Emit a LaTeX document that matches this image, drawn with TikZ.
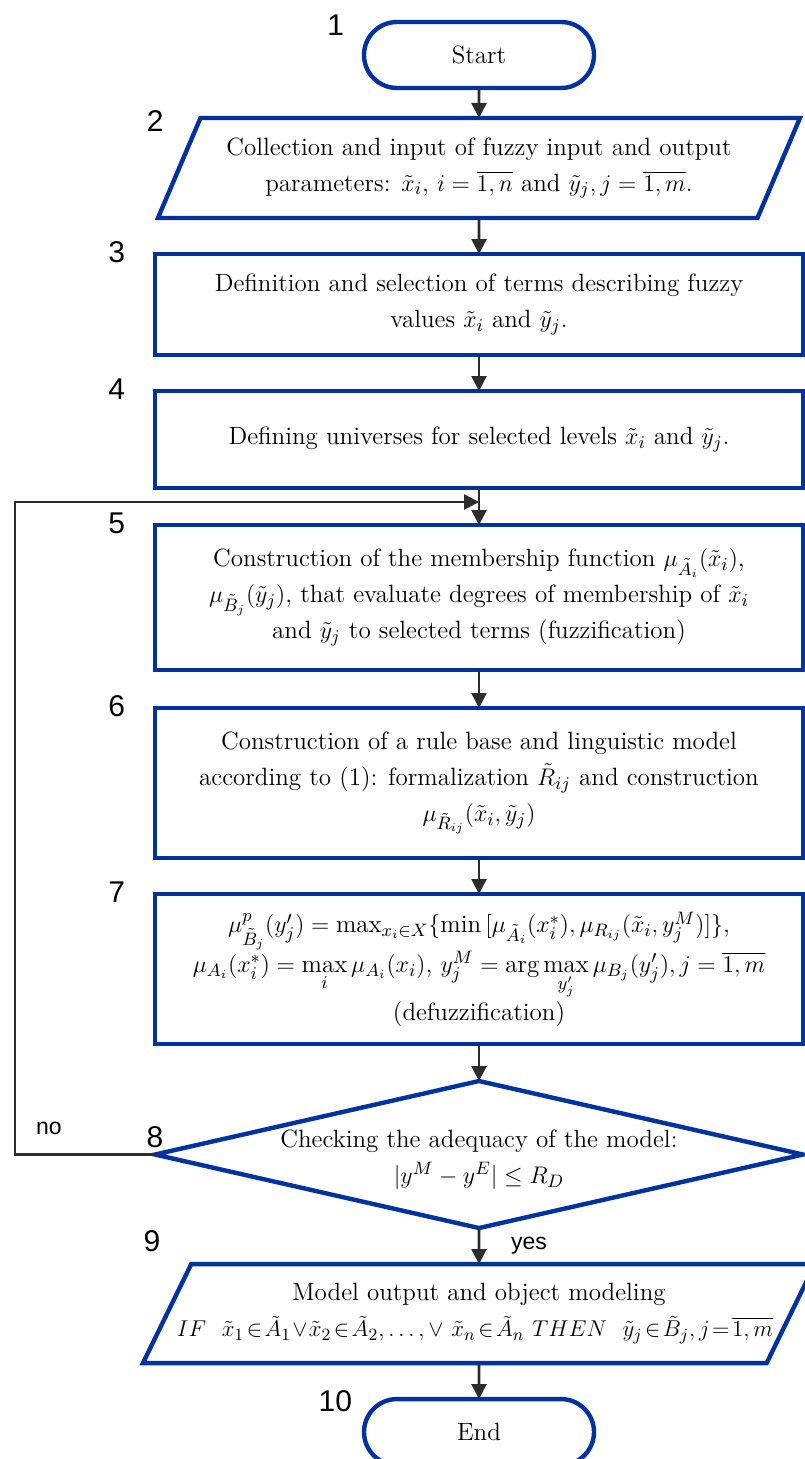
\documentclass[tikz,border=0pt]{standalone}
\usepackage{amsmath}
\usepackage{amssymb}
\usepackage{graphicx}
\usepackage{fontspec}
\newfontfamily\numfont{Liberation Sans}
\usepackage{tikz}
\usetikzlibrary{positioning}
\usetikzlibrary{shapes.geometric}
\usetikzlibrary{arrows.meta}
\definecolor{boxblue}{RGB}{0,51,160}
\definecolor{linegray}{RGB}{45,45,45}

\begin{document}
\begin{tikzpicture}
		[x=0.5pt, y=0.5pt, node distance=18pt,
		font=\fontsize{12.5}{18}\selectfont,
		every node/.style={outer sep=0pt},
		term/.style={draw=boxblue, line width=2.2pt, rounded corners=16.5pt, minimum width=115pt, minimum height=33pt},
		box/.style={draw=boxblue, line width=2.2pt, minimum width=324pt, align=center},
		io/.style={trapezium, trapezium stretches body=true, draw=boxblue, line width=2.2pt, align=center, inner sep=1pt},
		cond/.style={diamond, draw=boxblue, line width=2.2pt, minimum width=324pt, minimum height=73.5pt, inner sep=0pt},
		num/.style={font=\numfont\fontsize{15}{15}\selectfont, inner sep=0pt},
		lbl/.style={font=\numfont\fontsize{11.5}{12}\selectfont, inner sep=0pt},
		flow/.style={draw=linegray, line width=1.3pt, -{Triangle[width=7.5pt,length=7.5pt]}}]
		\useasboundingbox (0,0) rectangle (804,-1459);

		\node[term] (st) at (479,-55) {Start};
		\node[io, below=15pt of st, minimum width=321pt, minimum height=50pt,
			trapezium left angle=56.7, trapezium right angle=123.3] (p2)
			{Collection and input of fuzzy input and output\\
			parameters: $\tilde{x}_i$, $i=\overline{1,n}$ and $\tilde{y}_j, j=\overline{1,m}$.};
		\node[box, below=of p2, minimum height=50.5pt] (b3)
			{Definition and selection of terms describing fuzzy\\
			values $\tilde{x}_i$ and $\tilde{y}_j$.};
		\node[box, below=of b3, minimum height=48.5pt] (b4)
			{Defining universes for selected levels $\tilde{x}_i$ and $\tilde{y}_j$.};
		\node[box, below=18.5pt of b4, minimum height=72.5pt] (b5)
			{Construction of the membership function $\mu_{\tilde{A}_i}(\tilde{x}_i)$,\\
			$\mu_{\tilde{B}_j}(\tilde{y}_j)$, that evaluate degrees of membership of $\tilde{x}_i$\\
			and $\tilde{y}_j$ to selected terms (fuzzification)};
		\node[box, below=19pt of b5, minimum height=75pt] (b6)
			{Construction of a rule base and linguistic model\\
			according to (1): formalization $\tilde{R}_{ij}$ and construction\\
			$\mu_{\tilde{R}_{ij}}(\tilde{x}_i, \tilde{y}_j)$};
		\node[box, below=of b6, minimum height=75pt] (b7)
			{$\mu^{p}_{\tilde{B}_j}(y'_j) = \max_{x_i\in X}\{\min\,[\mu_{\tilde{A}_i}(x^*_i), \mu_{R_{ij}}(\tilde{x}_i, y^M_j)]\}$,\\
			$\mu_{A_i}(x^*_i) = \max\limits_{i}\mu_{A_i}(x_i)$, $y^M_j = \arg\max\limits_{y'_j}\mu_{B_j}(y'_j), j=\overline{1,m}$\\
			(defuzzification)};
		\node[cond, below=18.5pt of b7] (d8) {};
		\node[align=center, yshift=-2.5pt] (t8) at (d8.center)
			{Checking the adequacy of the model:\\ $|y^M-y^E|\le R_D$};
		\node[io, below=of d8, minimum width=336pt, minimum height=49.5pt,
			trapezium left angle=53, trapezium right angle=127] (p9)
			{Model output and object modeling\\
			\makebox[270pt]{\hspace{-4pt}\resizebox{298pt}{!}{\medmuskip=1mu\thickmuskip=2mu
			$IF\ \ \tilde{x}_1\in\tilde{A}_1\vee\tilde{x}_2\in\tilde{A}_2,\dots,\vee\ \tilde{x}_n\in\tilde{A}_n\ THEN\ \ \tilde{y}_j\in\tilde{B}_j, j=\overline{1,m}$}}};
		\node[term, below=of p9] (en) {End};

		\node[num, left=10pt of st.north west, yshift=-1.5pt] (n1) {1};
		\node[num, left=18.5pt of p2.top left corner, yshift=-1.5pt] (n2) {2};
		\node[num, left=15pt of b3.north west, yshift=1pt] (n3) {3};
		\node[num, left=15pt of b4.north west, yshift=1pt] (n4) {4};
		\node[num, left=15pt of b5.north west, yshift=1pt] (n5) {5};
		\node[num, left=15pt of b6.north west, yshift=1pt] (n6) {6};
		\node[num, left=15pt of b7.north west, yshift=1pt] (n7) {7};
		\node[num, above=3.5pt of d8.west] (n8) {8};
		\node[num, left=15.5pt of p9.top left corner, yshift=11.5pt] (n9) {9};
		\node[num, left=6pt of en.north west, yshift=-1pt] (n10) {10};

		\coordinate[below=7pt of b4] (j);
		\coordinate[left=70pt of d8.west] (lc);
		\node[lbl, anchor=south west] (no) at ([xshift=10.5pt, yshift=10pt]lc) {no};

		\draw[flow] (st) -- (p2);
		\draw[flow] (p2) -- (b3);
		\draw[flow] (b3) -- (b4);
		\draw[flow] (b4) -- (b5);
		\draw[flow] (b5) -- (b6);
		\draw[flow] (b6) -- (b7);
		\draw[flow] (b7) -- (d8);
		\draw[flow] (d8) -- node[lbl, right=16pt] (yes) {yes} (p9);
		\draw[flow] (p9) -- (en);
		\draw[flow] (d8.west) -- (lc) |- (j);
	\end{tikzpicture}
\end{document}
